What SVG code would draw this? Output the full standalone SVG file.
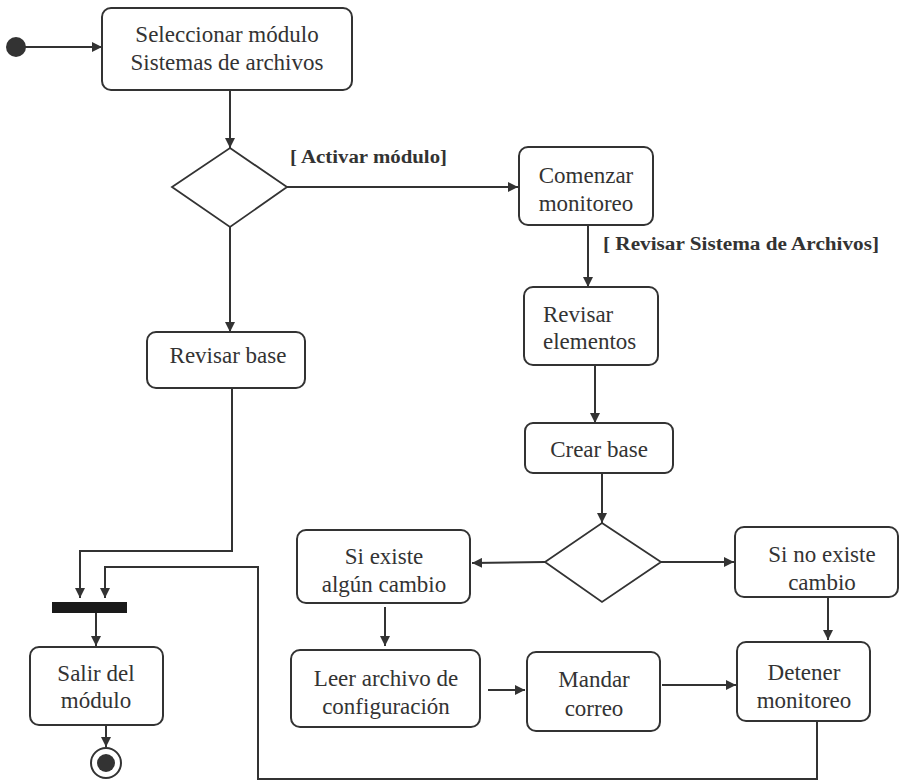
<svg xmlns="http://www.w3.org/2000/svg" width="900" height="784" viewBox="0 0 900 784">
  <defs>
    <marker id="arrow" viewBox="0 0 10 10" refX="10" refY="5" markerWidth="10" markerHeight="10" markerUnits="userSpaceOnUse" orient="auto">
      <path d="M0,0 L10,5 L0,10 Z" fill="#333"/>
    </marker>
    <style>
      .box { fill: #fff; stroke: #333; stroke-width: 2; }
      .dia { fill: #fff; stroke: #333; stroke-width: 1.8; }
      .lbl { font-family: 'Liberation Serif', 'Times New Roman', serif; font-size: 23px; text-anchor: middle; fill: #333; }
      .left { text-anchor: start; }
      .guard { font-family: 'Liberation Serif', 'Times New Roman', serif; font-size: 18px; font-weight: bold; fill: #333; }
      .edge { fill: none; stroke: #333; stroke-width: 2; marker-end: url(#arrow); }
    </style>
  </defs>
  <rect width="900" height="784" fill="#fff"/>

  <!-- control flow edges -->
  <g id="connectors">
    <path class="edge" d="M25,47 L102,47"/>
    <path class="edge" d="M230,90 L230,148"/>
    <path class="edge" d="M287,187 L518,187"/>
    <path class="edge" d="M230,227 L230,332"/>
    <path class="edge" d="M588,225 L588,287"/>
    <path class="edge" d="M595,365 L595,423"/>
    <path class="edge" d="M602,473 L602,523"/>
    <path class="edge" d="M545,562 L472,563"/>
    <path class="edge" d="M661,562 L734,562"/>
    <path class="edge" d="M385,607 L385,646"/>
    <path class="edge" d="M828,597 L828,640"/>
    <path class="edge" d="M488,690 L525,690"/>
    <path class="edge" d="M662,685 L736,685"/>
    <path class="edge" d="M232,388 L232,551 L80,551 L80,598"/>
    <path class="edge" d="M817,721 L817,779 L258,779 L258,567 L105,567 L105,598"/>
    <path class="edge" d="M96,613 L96,646"/>
    <path class="edge" d="M106,725 L106,747"/>
  </g>

  <!-- guard conditions -->
  <g id="guards">
    <text class="guard" font-family="Liberation Serif" x="290" y="163" textLength="157" lengthAdjust="spacingAndGlyphs">[ Activar módulo]</text>
    <text class="guard" font-family="Liberation Serif" x="603" y="250" textLength="276" lengthAdjust="spacingAndGlyphs">[ Revisar Sistema de Archivos]</text>
  </g>

  <g id="start">
    <circle cx="16" cy="47" r="10" fill="#333"/>
  </g>

  <g id="seleccionar">
    <rect class="box" x="102" y="8" width="250" height="82" rx="9"/>
    <text class="lbl" font-family="Liberation Serif" x="227" y="42">Seleccionar módulo</text>
    <text class="lbl" font-family="Liberation Serif" x="227" y="70">Sistemas de archivos</text>
  </g>

  <g id="decision1">
    <polygon class="dia" points="230,148 287,187 230,227 172,187"/>
  </g>

  <g id="comenzar">
    <rect class="box" x="519" y="147" width="134" height="78" rx="9"/>
    <text class="lbl" font-family="Liberation Serif" x="586" y="183">Comenzar</text>
    <text class="lbl" font-family="Liberation Serif" x="586" y="211">monitoreo</text>
  </g>

  <g id="revisar-elementos">
    <rect class="box" x="524" y="287" width="134" height="78" rx="9"/>
    <text class="lbl left" font-family="Liberation Serif" x="543" y="322">Revisar</text>
    <text class="lbl left" font-family="Liberation Serif" x="543" y="349">elementos</text>
  </g>

  <g id="revisar-base">
    <rect class="box" x="147" y="332" width="158" height="56" rx="9"/>
    <text class="lbl" font-family="Liberation Serif" x="228" y="363">Revisar base</text>
  </g>

  <g id="crear-base">
    <rect class="box" x="525" y="423" width="148" height="50" rx="8"/>
    <text class="lbl" font-family="Liberation Serif" x="599" y="457">Crear base</text>
  </g>

  <g id="decision2">
    <polygon class="dia" points="602,523 661,562 602,602 545,562"/>
  </g>

  <g id="si-existe">
    <rect class="box" x="297" y="530" width="173" height="73" rx="9"/>
    <text class="lbl" font-family="Liberation Serif" x="384" y="564">Si existe</text>
    <text class="lbl" font-family="Liberation Serif" x="384" y="592">algún cambio</text>
  </g>

  <g id="no-existe">
    <rect class="box" x="735" y="527" width="163" height="70" rx="9"/>
    <text class="lbl" font-family="Liberation Serif" x="822" y="562">Si no existe</text>
    <text class="lbl" font-family="Liberation Serif" x="822" y="590">cambio</text>
  </g>

  <g id="leer">
    <rect class="box" x="291" y="650" width="189" height="77" rx="9"/>
    <text class="lbl" font-family="Liberation Serif" x="386" y="686">Leer archivo de</text>
    <text class="lbl" font-family="Liberation Serif" x="386" y="714">configuración</text>
  </g>

  <g id="mandar">
    <rect class="box" x="527" y="652" width="133" height="79" rx="9"/>
    <text class="lbl" font-family="Liberation Serif" x="594" y="687">Mandar</text>
    <text class="lbl" font-family="Liberation Serif" x="594" y="716">correo</text>
  </g>

  <g id="detener">
    <rect class="box" x="737" y="642" width="133" height="79" rx="9"/>
    <text class="lbl" font-family="Liberation Serif" x="804" y="680">Detener</text>
    <text class="lbl" font-family="Liberation Serif" x="804" y="708">monitoreo</text>
  </g>

  <g id="join">
    <rect x="52" y="602" width="75" height="11" fill="#1a1a1a"/>
  </g>

  <g id="salir">
    <rect class="box" x="30" y="647" width="133" height="78" rx="9"/>
    <text class="lbl" font-family="Liberation Serif" x="96" y="681">Salir del</text>
    <text class="lbl" font-family="Liberation Serif" x="96" y="708">módulo</text>
  </g>

  <g id="end">
    <circle cx="106" cy="763" r="15" fill="#fff" stroke="#333" stroke-width="2"/>
    <circle cx="106" cy="763" r="9" fill="#333"/>
  </g>
</svg>
